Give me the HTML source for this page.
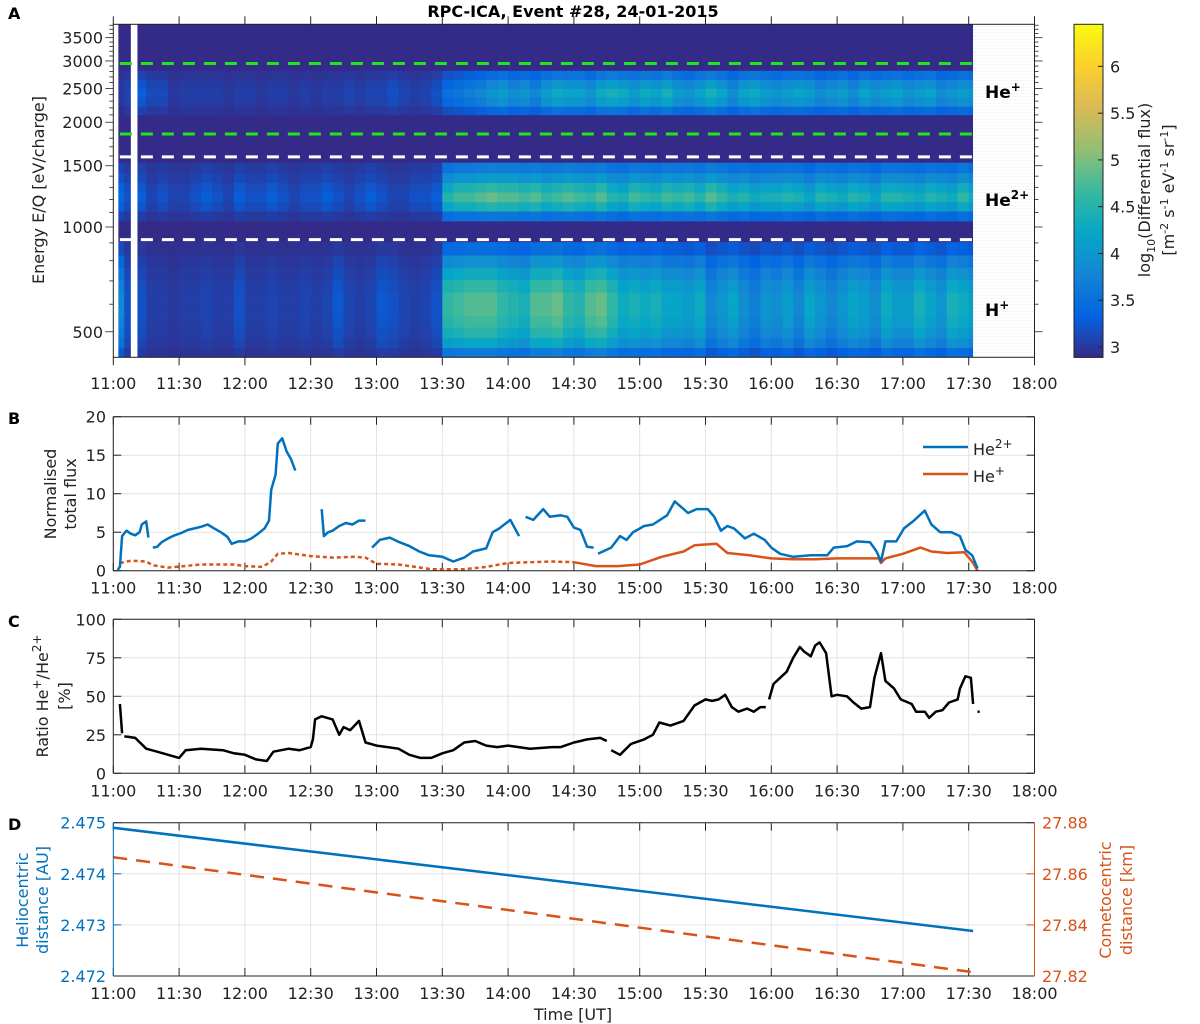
<!DOCTYPE html>
<html><head><meta charset="utf-8">
<style>
html,body{margin:0;padding:0;background:#fff;}
svg{display:block;font-family:"DejaVu Sans","Liberation Sans",sans-serif;}
</style></head>
<body>
<svg id="fig" width="1200" height="1024" viewBox="0 0 1200 1024" xmlns="http://www.w3.org/2000/svg">
<text x="573" y="17" text-anchor="middle" font-size="16" font-weight="bold">RPC-ICA, Event #28, 24-01-2015</text>
<text x="8" y="19" font-size="16" font-weight="bold">A</text>
<text x="8" y="424" font-size="16" font-weight="bold">B</text>
<text x="8" y="627" font-size="16" font-weight="bold">C</text>
<text x="8" y="830" font-size="16" font-weight="bold">D</text>
<g id="gA"></g>
<g id="gB"></g>
<g id="gC"></g>
<g id="gD"></g>
</svg>
<script>
// ---------- DATA ----------
const timeTickLabels = ["11:00","11:30","12:00","12:30","13:00","13:30","14:00","14:30","15:00","15:30","16:00","16:30","17:00","17:30","18:00"];
// spectrogram: 5-min bins starting 11:00 (log10 flux peak per band)
const hLevel = [3.8,3.2, 3.2,3.05,3.05,3.0,3.05,3.05,3.1,3.05,3.05,3.2,3.05,3.05,3.1,3.05,3.05,3.1,3.05,3.1,3.25,3.1,3.05,3.1,3.25,3.2,3.1,3.05,3.1,3.2,
 4.6,4.7,4.8,4.8,4.8,4.6, 4.5,4.4,4.8,4.8,4.9,4.6, 4.5,4.8,4.9,4.6,4.3,4.4, 4.3,4.4,4.2,4.2,4.1,4.3, 3.8,4.0,4.2,3.9,3.7,4.0, 3.9,4.1,3.8,4.2,4.0,3.8, 4.0,4.2,4.1,3.9,4.3,4.1, 4.1,4.4,4.2,4.0,4.4,4.3, 4.1];
const he2Level = [3.4,3.2, 3.3,3.1,3.2,3.1,3.1,3.2,3.3,3.2,3.1,3.3,3.2,3.2,3.3,3.2,3.1,3.2,3.2,3.3,3.2,3.1,3.2,3.3,3.2,3.1,3.1,3.2,3.2,3.3,
 4.5,4.7,4.7,4.8,4.9,4.8, 4.8,4.7,4.8,4.6,4.7,4.8, 4.7,4.6,4.8,4.5,4.4,4.7, 4.6,4.5,4.7,4.6,4.7,4.5, 4.8,4.6,4.4,4.5,4.3,4.4, 4.4,4.5,4.4,4.2,4.5,4.4, 4.3,4.5,4.4,4.2,4.5,4.5, 4.4,4.3,4.5,4.4,4.3,4.6, 4.3];
const he1Level = [3.0,3.1, 3.3,3.15,3.15,3.0,3.05,3.05,3.05,3.05,3.0,3.05,3.05,3.0,3.05,3.05,3.0,3.05,3.0,3.05,3.05,3.1,3.05,3.1,3.1,3.2,3.1,3.05,3.1,3.2,
 3.5,3.6,3.7,3.8,4.0,4.1, 3.9,4.0,3.8,4.1,4.3,4.2, 4.2,4.0,4.3,4.4,4.3,4.1, 4.3,4.2,4.4,4.1,4.0,4.2, 4.4,4.2,3.9,4.2,4.3,4.1, 4.0,4.1,4.2,4.1,3.9,4.0, 4.1,3.9,4.2,4.0,4.1,4.2, 4.0,4.1,4.2,3.9,4.0,4.1, 4.0];
const rowLo = [424,450,480,515,555,600,650,705,765,830, 1040,1110,1180,1260,1340,1430, 2100,2220,2360,2500,2650];
const rowHi = [450,480,515,555,600,650,705,765,830,905, 1110,1180,1260,1340,1430,1530, 2220,2360,2500,2650,2810];
const rowBand = [0,0,0,0,0,0,0,0,0,0, 1,1,1,1,1,1, 2,2,2,2,2];
const rowWeight = [0.4,0.7,0.85,0.95,1,1,0.9,0.75,0.55,0.3, 0.35,0.8,1,0.85,0.6,0.4, 0.45,0.85,1,0.8,0.5];
const energyTicks = [500,1000,1500,2000,2500,3000,3500];
const greenLines = [2950,1850];
const whiteLines = [1590,920];
const cbarTicks = [3,3.5,4,4.5,5,5.5,6];

// panel B
const bTime = [2,3,4,6,8,10,12,13,15,16,null,18,20,22,25,28,31,34,37,40,43,46,49,52,54,57,60,63,66,69,71,72,74,75,77,79,81,83,null,
 95,96,98,100,103,106,109,112,115,null,118,121.5,126,130.5,135,139.5,144,150,155,160,164,170,173,176,181,185,null,188,191.5,196,199,204,207,210,213,216,219,null,
 221,227,231,234,237,242,246,252.5,256,260,262,266,271,274,277,280,283,288,292,297,300,304,310,318,325.5,328.5,334.6,339,345,348,350,352,357,360.5,365,370,373,377,382,386,388.5,391.6,394];
const bHe2 = [0.1,0.5,4.5,5.2,4.8,4.6,5.0,6.0,6.4,4.3,null,3.0,3.1,3.7,4.2,4.6,4.9,5.3,5.5,5.7,6.0,5.5,5.0,4.4,3.5,3.8,3.8,4.2,4.8,5.5,6.5,10.5,12.5,16.5,17.2,15.5,14.5,13.0,null,
 8.0,4.5,5.0,5.2,5.8,6.2,6.0,6.5,6.5,null,3.0,4.0,4.3,3.7,3.2,2.5,2.0,1.8,1.2,1.7,2.5,2.9,5.0,5.5,6.6,4.5,null,7.0,6.6,8.0,7.0,7.2,7.0,5.6,5.3,3.1,3.0,null,
 2.2,3.0,4.5,4.0,5.0,5.8,6.0,7.2,9.0,8.0,7.5,8.0,8.0,7.0,5.2,5.8,5.5,4.2,4.8,4.0,3.0,2.2,1.8,2.0,2.0,3.0,3.2,3.8,3.7,2.5,1.2,3.8,3.8,5.5,6.5,7.8,6.0,5.0,5.0,4.5,2.7,2.0,0.3];
const oTime = [3,8,15,18,25,40,55,60,68,72,75,80,90,100,110,115,120,130,140,145,160,170,180,190,200,210,220,230,240,250,260,265,275,280,290,300,310,320,330,340,349,350,352,360,368,373,380,388,392,394];
const oHe1 = [1.0,1.3,1.2,0.7,0.4,0.8,0.8,0.6,0.5,1.2,2.2,2.3,1.9,1.7,1.8,1.7,0.9,0.8,0.4,0.2,0.2,0.5,1.0,1.1,1.2,1.1,0.6,0.6,0.8,1.8,2.5,3.3,3.5,2.3,2.0,1.6,1.5,1.5,1.6,1.6,1.6,1.0,1.6,2.2,3.0,2.5,2.3,2.4,1.0,0];
const bTicks = [0,5,10,15,20];

// panel C
const cTime = [3,4,null,5,10,15,20,25,30,33,40,50,55,60,65,70,73,80,85,90,91,92,95,100,103,105,108,112,115,120,125,130,135,140,145,150,155,160,165,170,175,180,190,200,204,210,213,216,222,225,null,
 227,231,236,242,246,249,254,260,265,270,273,276,279,282,285,289,292,295,297.5,null,299,301,304,307,310,313,315,318,320,322,325,327.5,330,334.5,337.5,341,345,347,350,352,356,359,364,366,370,372,375,378,381,385,386,388.5,391,392,null,394,395];
const cRatio = [45,26,null,24,23,16,14,12,10,15,16,15,13,12,9,8,14,16,15,17,22,35,37,35,25,30,28,34,20,18,17,16,12,10,10,13,15,20,21,18,17,18,16,17,17,20,21,22,23,21,null,
 15,12,19,22,25,33,31,34,44,48,47,48,51,43,40,42,40,43,43,null,48,58,62,66,75,82,79,76,83,85,78,50,51,50,46,42,43,62,78,60,55,48,45,40,40,36,40,41,46,48,55,63,62,45,null,40,40];
const cTicks = [0,25,50,75,100];

// panel D
const dTime = [0,392];
const dHelio = [2.47490,2.47288];
const dComet = [27.8665,27.8215];
const dLeftTicks = [2.472,2.473,2.474,2.475];
const dRightTicks = [27.82,27.84,27.86,27.88];

// ---------- HELPERS ----------
const NS="http://www.w3.org/2000/svg";
function mk(parent,tag,attrs){const e=document.createElementNS(NS,tag);for(const k in attrs)e.setAttribute(k,attrs[k]);parent.appendChild(e);return e;}
const X0=113.3, PXMIN=65.8/30;
function xT(t){return X0+t*PXMIN;}
const XR=xT(420);
const A_T=24.3,A_B=357.3;
function yE(e){return 227-(Math.log10(e)-3)*348;}
const stops=[[0,[53,42,135]],[0.125,[3,99,225]],[0.25,[20,133,212]],[0.375,[6,167,198]],[0.5,[56,185,158]],[0.625,[146,191,115]],[0.75,[217,186,86]],[0.875,[252,206,46]],[1,[249,251,14]]];
const CMIN=2.89,CMAX=6.45;
function parula(v){let f=(v-CMIN)/(CMAX-CMIN);f=Math.max(0,Math.min(1,f));for(let i=1;i<stops.length;i++){if(f<=stops[i][0]){const a=stops[i-1],b=stops[i];const r=(f-a[0])/(b[0]-a[0]);const c=a[1].map((x,j)=>Math.round(x+(b[1][j]-x)*r));return `rgb(${c[0]},${c[1]},${c[2]})`;}}return "rgb(249,251,14)";}

// ---------- PANEL A ----------
const gA=document.getElementById('gA');
const bg=mk(gA,'rect',{x:X0,y:A_T,width:xT(392)-X0,height:A_B-A_T,fill:parula(2.9)});


const levels=[hLevel,he2Level,he1Level];
for(let i=0;i<hLevel.length;i++){
  const t0=i*5, t1=Math.min(i*5+5,392);
  if(t1<=t0) continue;
  for(let r=0;r<rowLo.length;r++){
    const lv=levels[rowBand[r]][i];
    const v=2.9+(lv-2.9)*rowWeight[r];
    const cell=mk(gA,'rect',{x:xT(t0),y:yE(rowHi[r]),width:xT(t1)-xT(t0)+0.3,height:yE(rowLo[r])-yE(rowHi[r])+0.3,fill:parula(v)});
    
    
  }
}
[[0,2.3],[8,11],[392,420]].forEach(([a,b])=>{
  const w=mk(gA,'rect',{x:xT(a),y:A_T,width:xT(b)-xT(a),height:A_B-A_T,fill:'#fff'});
  
  
});
for(let y=A_T+2;y<A_B;y+=3.2){mk(gA,'line',{x1:xT(392),x2:XR,y1:y,y2:y,stroke:'#ddd','stroke-width':0.5,'stroke-dasharray':'1 1'});}
greenLines.forEach(e=>{const l=mk(gA,'line',{x1:xT(3),x2:xT(392),y1:yE(e),y2:yE(e),stroke:'#22e51a','stroke-width':3,'stroke-dasharray':'12 9'});
 
 });
whiteLines.forEach(e=>{const l=mk(gA,'line',{x1:xT(3),x2:xT(392),y1:yE(e),y2:yE(e),stroke:'#fff','stroke-width':3,'stroke-dasharray':'12 9'});
 
 });
const fr=mk(gA,'rect',{x:X0,y:A_T,width:XR-X0,height:A_B-A_T,fill:'none',stroke:'#222','stroke-width':1});


timeTickLabels.forEach((s,i)=>{const x=xT(i*30);
 mk(gA,'line',{x1:x,x2:x,y1:A_B,y2:A_B+8,stroke:'#222'});mk(gA,'line',{x1:x,x2:x,y1:A_T,y2:A_T-8,stroke:'#222'});
 const t=mk(gA,'text',{x:x,y:389,'text-anchor':'middle','font-size':16,fill:'#222'});t.textContent=s;
 
 });
for(let e=500;e<=3800;e+=100){const y=yE(e);if(y<A_T)continue;const maj=energyTicks.includes(e);
 mk(gA,'line',{x1:X0-(maj?8:4),x2:X0,y1:y,y2:y,stroke:'#222','stroke-width':0.8});
 mk(gA,'line',{x1:XR,x2:XR+(maj?8:4),y1:y,y2:y,stroke:'#222','stroke-width':0.8});}
energyTicks.forEach(e=>{const t=mk(gA,'text',{x:103,y:yE(e)+6,'text-anchor':'end','font-size':16,fill:'#222'});t.textContent=e;
 
 });
const yla=mk(gA,'text',{x:0,y:0,transform:'translate(44,190) rotate(-90)','text-anchor':'middle','font-size':16,fill:'#222'});yla.textContent='Energy E/Q [eV/charge]';


[['He','+',98],['He','2+',206],['H','+',316]].forEach(([a,b,y])=>{const t=mk(gA,'text',{x:985,y:y,'font-size':17,'font-weight':'bold',fill:'#000'});
 t.innerHTML=a+'<tspan dy="-7" font-size="12">'+b+'</tspan>';
 
 });
const CB_X=1074,CB_W=29;
function yC(v){return A_B-(v-CMIN)/(CMAX-CMIN)*(A_B-A_T);}
for(let k=0;k<100;k++){const v0=CMIN+(CMAX-CMIN)*k/100,v1=CMIN+(CMAX-CMIN)*(k+1)/100;
 mk(gA,'rect',{x:CB_X,y:yC(v1),width:CB_W,height:yC(v0)-yC(v1)+0.5,fill:parula((v0+v1)/2)});}
const cbf=mk(gA,'rect',{x:CB_X,y:A_T,width:CB_W,height:A_B-A_T,fill:'none',stroke:'#222'});


cbarTicks.forEach(v=>{mk(gA,'line',{x1:CB_X+CB_W-5,x2:CB_X+CB_W,y1:yC(v),y2:yC(v),stroke:'#222'});
 const t=mk(gA,'text',{x:1110,y:yC(v)+6,'font-size':16,fill:'#222'});t.textContent=v;
 
 });
const cl1=mk(gA,'text',{x:0,y:0,transform:'translate(1150,190) rotate(-90)','text-anchor':'middle','font-size':16,fill:'#222'});
cl1.innerHTML='log<tspan dy="5" font-size="11">10</tspan><tspan dy="-5">(Differential flux)</tspan>';


const cl2=mk(gA,'text',{x:0,y:0,transform:'translate(1174,190) rotate(-90)','text-anchor':'middle','font-size':16,fill:'#222'});
cl2.innerHTML='[m<tspan dy="-6" font-size="11">-2</tspan><tspan dy="6"> s</tspan><tspan dy="-6" font-size="11">-1</tspan><tspan dy="6"> eV</tspan><tspan dy="-6" font-size="11">-1</tspan><tspan dy="6"> sr</tspan><tspan dy="-6" font-size="11">-1</tspan><tspan dy="6">]</tspan>';



function frame(g,top,bot){
 mk(g,'rect',{x:X0,y:top,width:XR-X0,height:bot-top,fill:'#fff',stroke:'none'});
 timeTickLabels.forEach((s,i)=>{const x=xT(i*30);
  mk(g,'line',{x1:x,x2:x,y1:top,y2:bot,stroke:'#e3e3e3','stroke-width':1});
  mk(g,'line',{x1:x,x2:x,y1:bot,y2:bot-8,stroke:'#222'});mk(g,'line',{x1:x,x2:x,y1:top,y2:top+8,stroke:'#222'});
  const t=mk(g,'text',{x:x,y:bot+23,'text-anchor':'middle','font-size':16,fill:'#222'});t.textContent=s;
  
  });
}
function border(g,top,bot,leftColor,rightColor){
 mk(g,'line',{x1:X0,x2:XR,y1:top,y2:top,stroke:'#222'});
 mk(g,'line',{x1:X0,x2:XR,y1:bot,y2:bot,stroke:'#222'});
 mk(g,'line',{x1:X0,x2:X0,y1:top,y2:bot,stroke:leftColor});
 mk(g,'line',{x1:XR,x2:XR,y1:top,y2:bot,stroke:rightColor||'#222'});
}
function poly(g,ts,vs,fx,fy,attrs,name){
 let segs=[],cur=[];
 for(let i=0;i<ts.length;i++){if(ts[i]===null||vs[i]===null){if(cur.length)segs.push(cur);cur=[];continue;}cur.push(fx(ts[i]).toFixed(1)+','+fy(vs[i]).toFixed(1));}
 if(cur.length)segs.push(cur);
 segs.forEach(s=>{const p=mk(g,'polyline',Object.assign({points:s.join(' '),fill:'none','stroke-linejoin':'round'},attrs));
  
  });
}

// ---------- PANEL B ----------
const gB=document.getElementById('gB');
const B_T=416.7,B_B=570.7;
function yB(v){return B_B-v/20*(B_B-B_T);}
frame(gB,B_T,B_B);
bTicks.forEach(v=>{mk(gB,'line',{x1:X0,x2:XR,y1:yB(v),y2:yB(v),stroke:'#e3e3e3'});
 mk(gB,'line',{x1:X0,x2:X0+8,y1:yB(v),y2:yB(v),stroke:'#222'});mk(gB,'line',{x1:XR-8,x2:XR,y1:yB(v),y2:yB(v),stroke:'#222'});
 const t=mk(gB,'text',{x:106,y:yB(v)+6,'text-anchor':'end','font-size':16,fill:'#222'});t.textContent=v;
 
 });
const nEarly=oTime.filter(t=>t<=215).length;
poly(gB,oTime.slice(0,nEarly),oHe1.slice(0,nEarly),xT,yB,{stroke:'#d95319','stroke-width':2.5,'stroke-dasharray':'4 3'},'he-plus-flux-line');
poly(gB,oTime.slice(nEarly-1),oHe1.slice(nEarly-1),xT,yB,{stroke:'#d95319','stroke-width':2.5},'he-plus-flux-line');
poly(gB,bTime,bHe2,xT,yB,{stroke:'#0072bd','stroke-width':2.5},'he2-flux-line');
border(gB,B_T,B_B,'#222');
const lg1=mk(gB,'line',{x1:923,x2:968,y1:447,y2:447,stroke:'#0072bd','stroke-width':2.5});


const lt1=mk(gB,'text',{x:973,y:455,'font-size':16,fill:'#222'});lt1.innerHTML='He<tspan dy="-7" font-size="12">2+</tspan>';


const lg2=mk(gB,'line',{x1:923,x2:968,y1:474,y2:474,stroke:'#d95319','stroke-width':2.5});


const lt2=mk(gB,'text',{x:973,y:482,'font-size':16,fill:'#222'});lt2.innerHTML='He<tspan dy="-7" font-size="12">+</tspan>';


const byl1=mk(gB,'text',{x:0,y:0,transform:'translate(56,494) rotate(-90)','text-anchor':'middle','font-size':16,fill:'#222'});byl1.textContent='Normalised';


const byl2=mk(gB,'text',{x:0,y:0,transform:'translate(76,494) rotate(-90)','text-anchor':'middle','font-size':16,fill:'#222'});byl2.textContent='total flux';



// ---------- PANEL C ----------
const gC=document.getElementById('gC');
const C_T=619.3,C_B=773.3;
function yCr(v){return C_B-v/100*(C_B-C_T);}
frame(gC,C_T,C_B);
cTicks.forEach(v=>{mk(gC,'line',{x1:X0,x2:XR,y1:yCr(v),y2:yCr(v),stroke:'#e3e3e3'});
 mk(gC,'line',{x1:X0,x2:X0+8,y1:yCr(v),y2:yCr(v),stroke:'#222'});mk(gC,'line',{x1:XR-8,x2:XR,y1:yCr(v),y2:yCr(v),stroke:'#222'});
 const t=mk(gC,'text',{x:106,y:yCr(v)+6,'text-anchor':'end','font-size':16,fill:'#222'});t.textContent=v;
 
 });
poly(gC,cTime,cRatio,xT,yCr,{stroke:'#000','stroke-width':2.5},'ratio-line');
border(gC,C_T,C_B,'#222');
const cyl1=mk(gC,'text',{x:0,y:0,transform:'translate(48,696) rotate(-90)','text-anchor':'middle','font-size':16,fill:'#222'});
cyl1.innerHTML='Ratio He<tspan dy="-7" font-size="12">+</tspan><tspan dy="7">/He</tspan><tspan dy="-7" font-size="12">2+</tspan>';


const cyl2=mk(gC,'text',{x:0,y:0,transform:'translate(70,696) rotate(-90)','text-anchor':'middle','font-size':16,fill:'#222'});cyl2.textContent='[%]';



// ---------- PANEL D ----------
const gD=document.getElementById('gD');
const D_T=822.7,D_B=976;
function yDl(v){return D_B-(v-2.472)/0.003*(D_B-D_T);}
function yDr(v){return D_B-(v-27.82)/0.06*(D_B-D_T);}
frame(gD,D_T,D_B);
dLeftTicks.forEach(v=>{mk(gD,'line',{x1:X0,x2:XR,y1:yDl(v),y2:yDl(v),stroke:'#e3e3e3'});
 mk(gD,'line',{x1:X0,x2:X0+8,y1:yDl(v),y2:yDl(v),stroke:'#0072bd'});
 const t=mk(gD,'text',{x:106,y:yDl(v)+6,'text-anchor':'end','font-size':16,fill:'#0072bd'});t.textContent=v.toFixed(3);
 
 });
dRightTicks.forEach(v=>{mk(gD,'line',{x1:XR-8,x2:XR,y1:yDr(v),y2:yDr(v),stroke:'#d95319'});
 const t=mk(gD,'text',{x:1042,y:yDr(v)+6,'font-size':16,fill:'#d95319'});t.textContent=v.toFixed(2);
 
 });
poly(gD,dTime,dHelio,xT,yDl,{stroke:'#0072bd','stroke-width':2.5},'heliocentric-line');
poly(gD,dTime,dComet,xT,yDr,{stroke:'#d95319','stroke-width':2.5,'stroke-dasharray':'14 9'},'cometocentric-line');
border(gD,D_T,D_B,'#0072bd','#d95319');
const dyl1=mk(gD,'text',{x:0,y:0,transform:'translate(28,900) rotate(-90)','text-anchor':'middle','font-size':16,fill:'#0072bd'});dyl1.textContent='Heliocentric';


const dyl2=mk(gD,'text',{x:0,y:0,transform:'translate(48,900) rotate(-90)','text-anchor':'middle','font-size':16,fill:'#0072bd'});dyl2.textContent='distance [AU]';


const dyr1=mk(gD,'text',{x:0,y:0,transform:'translate(1111,900) rotate(-90)','text-anchor':'middle','font-size':16,fill:'#d95319'});dyr1.textContent='Cometocentric';


const dyr2=mk(gD,'text',{x:0,y:0,transform:'translate(1132,900) rotate(-90)','text-anchor':'middle','font-size':16,fill:'#d95319'});dyr2.textContent='distance [km]';


const xt=mk(gD,'text',{x:573,y:1020,'text-anchor':'middle','font-size':16,fill:'#222'});xt.textContent='Time [UT]';


</script>
</body></html>
